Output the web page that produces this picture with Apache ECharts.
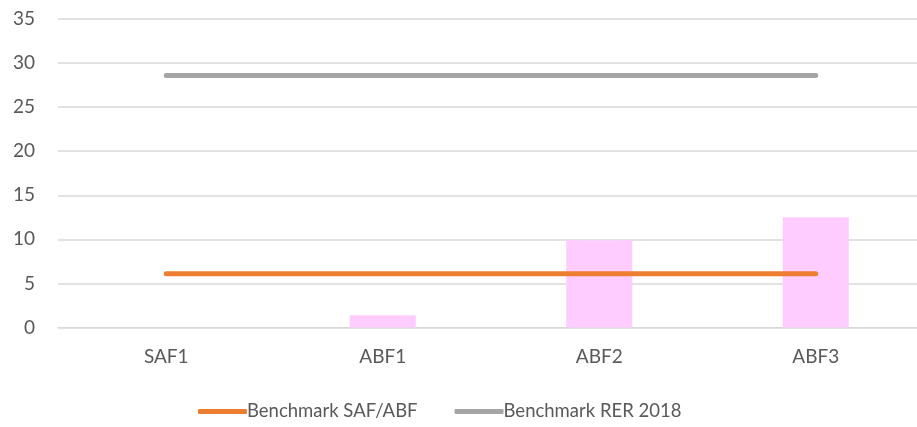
<!DOCTYPE html>
<html><head><meta charset="utf-8">
<script src="https://cdn.jsdelivr.net/npm/echarts@6/dist/echarts.min.js"></script>
<style>html,body{margin:0;padding:0;background:#fff}#c{width:917px;height:427px}</style>
</head><body><div id="c"></div>
<script>
const categories = ['SAF1', 'ABF1', 'ABF2', 'ABF3'];
const barValues = [0, 1.4, 9.9, 12.5];
const benchmarkSafAbf = [6.1, 6.1, 6.1, 6.1];
const benchmarkRer2018 = [28.6, 28.6, 28.6, 28.6];
const font = 'Lato, "Open Sans", sans-serif';
const chart = echarts.init(document.getElementById('c'));
chart.setOption({
  animation: false,
  grid: {left: 58, top: 19, width: 866, height: 308.5, outerBoundsMode: 'none'},
  legend: {
    data: ['Benchmark SAF/ABF', 'Benchmark RER 2018'],
    bottom: 1, left: 193,
    itemWidth: 49, itemHeight: 5, itemGap: 37,
    textStyle: {fontFamily: font, fontSize: 18.5, color: '#595959', padding: [0,0,0,-5]},
    icon: 'roundRect'
  },
  xAxis: {
    type: 'category', data: categories,
    axisLine: {lineStyle: {color: '#D9D9D9', width: 1}},
    axisTick: {show: false},
    axisLabel: {fontFamily: font, fontSize: 19, color: '#595959', margin: 20}
  },
  yAxis: {
    type: 'value', min: 0, max: 35, interval: 5,
    axisLine: {show: false}, axisTick: {show: false},
    splitLine: {lineStyle: {color: '#D9D9D9', width: 1.5}},
    axisLabel: {fontFamily: font, fontSize: 19, color: '#595959', margin: 23}
  },
  series: [
    {name: 'Values', type: 'bar', data: barValues, barWidth: '30.5%',
     itemStyle: {color: '#FFCCFF'}},
    {name: 'Benchmark SAF/ABF', type: 'line', data: benchmarkSafAbf, symbol: 'none',
     lineStyle: {color: '#ED7D31', width: 5, cap: 'round'}, itemStyle: {color: '#ED7D31'}},
    {name: 'Benchmark RER 2018', type: 'line', data: benchmarkRer2018, symbol: 'none',
     lineStyle: {color: '#A5A5A5', width: 5, cap: 'round'}, itemStyle: {color: '#A5A5A5'}}
  ]
});
</script></body></html>
